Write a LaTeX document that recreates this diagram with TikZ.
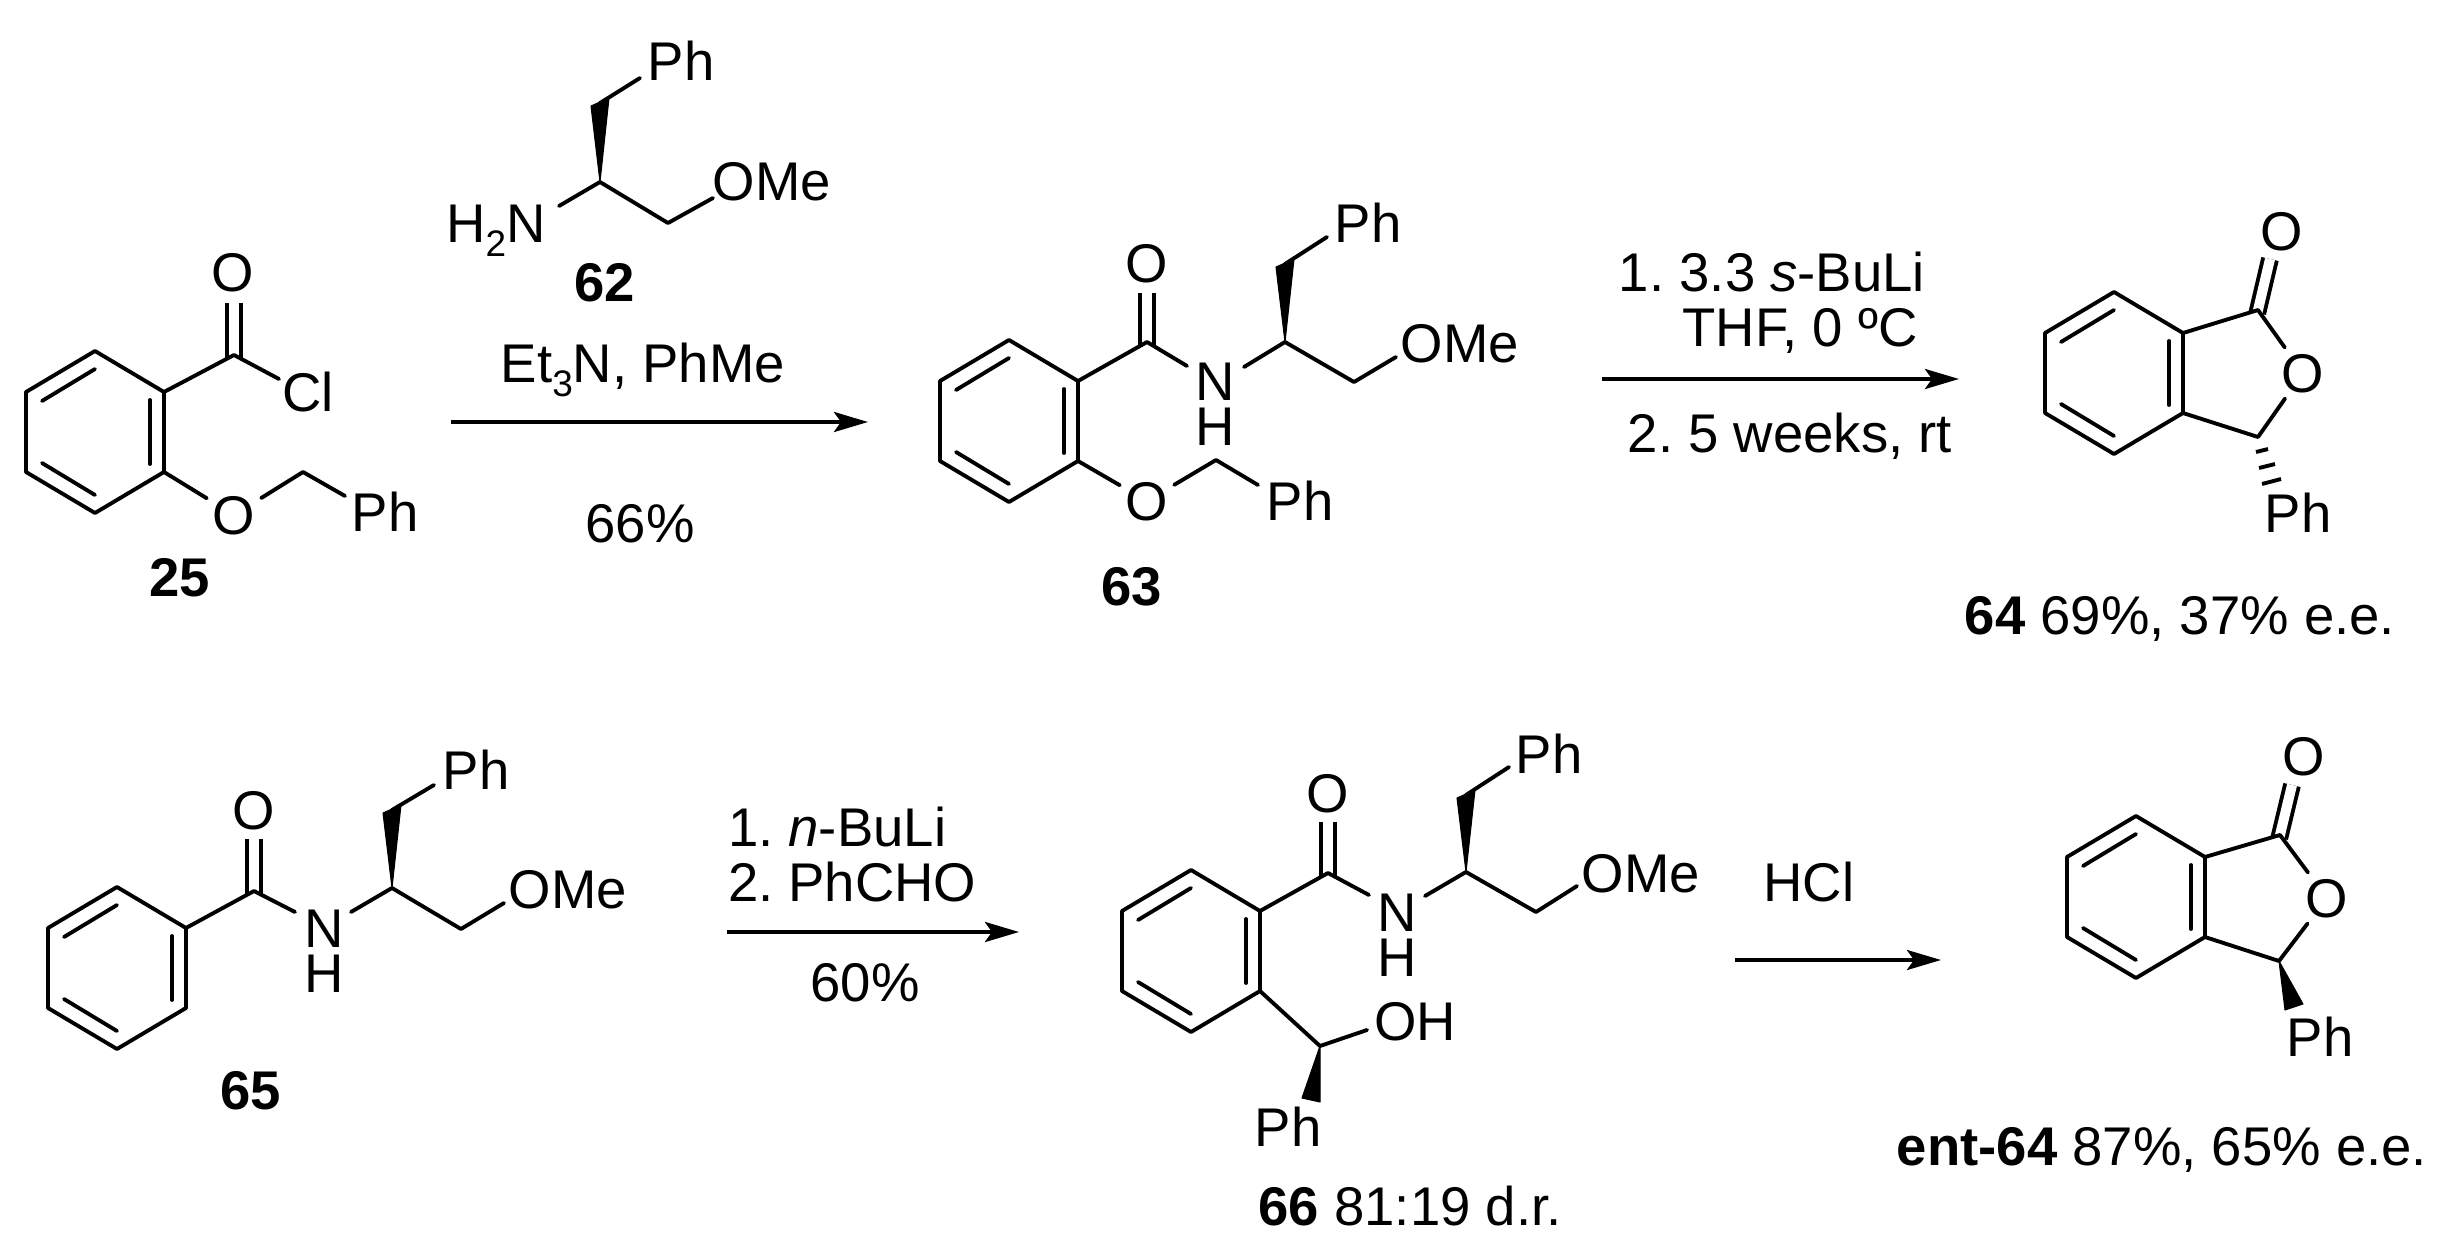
\documentclass[tikz,border=0pt]{standalone}
\usepackage{fontspec}
\setmainfont{Liberation Sans}
\usetikzlibrary{arrows.meta,calc}
\frenchspacing
\newcommand{\subnum}[1]{\raisebox{-0.25em}{\fontsize{10.5}{11}\selectfont #1}}
\tikzset{
	atom/.style={inner sep=0pt, outer sep=0.06cm, text height=11.1pt, text depth=0pt, font=\fontsize{15.5}{18}\selectfont},
	amine/.style={inner sep=0pt, align=center, font=\fontsize{15.5}{12.9}\selectfont},
	bond/.style={line width=1.1pt, line cap=round, line join=round},
	dblbond/.style={line width=1.1pt, double, double distance=0.1cm, shorten <=-0.03cm},
	wedgebond/.style={fill=black, draw=black, line width=0.3pt, line join=round},
	hashbond/.style={line width=1.1pt},
	rxnarrow/.style={line width=1.1pt, -{Stealth[length=0.34cm, width=0.2cm, inset=0.07cm]}}
}
% ring with its corners named from the first argument
\newcommand{\benzring}[3]{
	\begin{scope}[shift={(#2,#3)}]
		\coordinate (#1t) at (0,-81);
		\coordinate (#1ur) at (69,-40);
		\coordinate (#1lr) at (69,40);
		\coordinate (#1b) at (0,81);
		\coordinate (#1ll) at (-69,40);
		\coordinate (#1ul) at (-69,-40);
		\draw[bond] (#1t) -- (#1ur) -- (#1lr) -- (#1b) -- (#1ll) -- (#1ul) -- cycle;
		\draw[bond] (-53,-31) -- (0,-63);
		\draw[bond] (55,-32) -- (55,32);
		\draw[bond] (-53,31) -- (0,63);
	\end{scope}
}
\begin{document}
\begin{tikzpicture}[x=0.01cm, y=-0.01cm]
	\useasboundingbox (0,0) rectangle (2456,1260);

	% 25
	\node[atom] (o25) at (233,272) {O};
	\node[atom] (cl25) at (308,392) {Cl};
	\node[atom] (ob25) at (234,515) {O};
	\node[atom] (ph25) at (385,512) {Ph};
	\node[atom] (lab25) at (180,577) {\textbf{25}};
	\coordinate (co25) at (234,355);
	\coordinate (cle25) at (279,379);
	\coordinate (ch25) at (303,472);
	\coordinate (phe25) at (345,496);
	\draw[dblbond] (co25) -- (234,303);
	\benzring{r25}{95}{432}
	\draw[bond] (r25ur) -- (co25) -- (cle25);
	\draw[bond] (r25lr) -- (ob25);
	\draw[bond] (ob25) -- (ch25) -- (phe25);

	% 62
	\node[atom] (ph62) at (681,61) {Ph};
	\node[atom] (nh62) at (496,223) {H\subnum{2}N};
	\node[atom] (ome62) at (772,181) {OMe};
	\node[atom] (lab62) at (605,282) {\textbf{62}};
	\coordinate (c62) at (600,182);
	\coordinate (w62) at (600,103);
	\coordinate (phe62) at (640,78);
	\coordinate (ne62) at (559,206);
	\coordinate (ch62) at (668,223);
	\coordinate (oe62) at (713,198);
	\fill[wedgebond] (c62) -- ($(w62)+(-9,3)$) -- ($(w62)+(9,-5)$) -- cycle;
	\draw[bond] (w62) -- (phe62);
	\draw[bond] (ne62) -- (c62) -- (ch62) -- (oe62);

	% first arrow
	\node[atom] (cond1) at (643,363) {Et\subnum{3}N, PhMe};
	\node[atom] (yield1) at (640,523) {66\%};
	\coordinate (a1s) at (451,422);
	\coordinate (a1e) at (868,422);
	\draw[rxnarrow] (a1s) -- (a1e);

	% 63
	\node[atom] (o63) at (1147,263) {O};
	\node[amine] (n63) at (1215,404) {N\\H};
	\node[atom] (ph63) at (1368,223) {Ph};
	\node[atom] (ome63) at (1460,343) {OMe};
	\node[atom] (ob63) at (1147,501) {O};
	\node[atom] (phb63) at (1300,501) {Ph};
	\node[atom] (lab63) at (1132,586) {\textbf{63}};
	\coordinate (co63) at (1147,342);
	\coordinate (c63) at (1285,342);
	\coordinate (w63) at (1285,264);
	\coordinate (phe63) at (1327,237);
	\coordinate (ch63) at (1354,382);
	\coordinate (oe63) at (1396,357);
	\coordinate (chb63) at (1216,460);
	\coordinate (phbe63) at (1258,485);
	\coordinate (nl63) at (1187,366);
	\coordinate (nr63) at (1244,367);
	\draw[dblbond] (co63) -- (1147,293);
	\benzring{r63}{1009}{421}
	\draw[bond] (r63ur) -- (co63) -- (nl63);
	\draw[bond] (nr63) -- (c63) -- (ch63) -- (oe63);
	\fill[wedgebond] (c63) -- ($(w63)+(-9,3)$) -- ($(w63)+(9,-5)$) -- cycle;
	\draw[bond] (w63) -- (phe63);
	\draw[bond] (r63lr) -- (ob63);
	\draw[bond] (ob63) -- (chb63) -- (phbe63);

	% second arrow
	\node[atom] (cond2a) at (1772,272) {1. 3.3 \textit{s}-BuLi};
	\node[atom] (cond2b) at (1800,327) {THF, 0 ºC};
	\node[atom] (cond2c) at (1790,433) {2. 5 weeks, rt};
	\coordinate (a2s) at (1602,379);
	\coordinate (a2e) at (1959,379);
	\draw[rxnarrow] (a2s) -- (a2e);

	% 64
	\node[atom] (o64) at (2282,231) {O};
	\node[atom] (or64) at (2303,373) {O};
	\node[atom] (ph64) at (2298,513) {Ph};
	\node[atom] (lab64) at (2180,615) {\textbf{64} 69\%, 37\% e.e.};
	\coordinate (co64) at (2258,310);
	\coordinate (c64) at (2258,437);
	\coordinate (coe64) at (2270,259);
	\draw[dblbond] (co64) -- (coe64);
	\benzring{r64}{2114}{373}
	\draw[bond] (r64ur) -- (co64) -- (or64);
	\draw[bond] (or64) -- (c64) -- (r64lr);
	\draw[hashbond] (2256,452) -- (2268,449);
	\draw[hashbond] (2259,468) -- (2275,464);
	\draw[hashbond] (2262,484) -- (2281,479);

	% 65
	\node[atom] (o65) at (254,810) {O};
	\node[amine] (n65) at (324,951) {N\\H};
	\node[atom] (ph65) at (476,770) {Ph};
	\node[atom] (ome65) at (568,889) {OMe};
	\node[atom] (lab65) at (251,1090) {\textbf{65}};
	\coordinate (co65) at (254,891);
	\coordinate (c65) at (392,888);
	\coordinate (w65) at (392,810);
	\coordinate (phe65) at (434,785);
	\coordinate (ch65) at (461,929);
	\coordinate (oe65) at (504,903);
	\coordinate (nl65) at (295,912);
	\coordinate (nr65) at (351,912);
	\draw[dblbond] (co65) -- (254,839);
	\benzring{r65}{117}{968}
	\draw[bond] (r65ur) -- (co65) -- (nl65);
	\draw[bond] (nr65) -- (c65) -- (ch65) -- (oe65);
	\fill[wedgebond] (c65) -- ($(w65)+(-9,3)$) -- ($(w65)+(9,-5)$) -- cycle;
	\draw[bond] (w65) -- (phe65);

	% third arrow
	\node[atom, anchor=west] (cond3a) at (722,827) {1. \textit{n}-BuLi};
	\node[atom, anchor=west] (cond3b) at (722,882) {2. PhCHO};
	\node[atom] (yield3) at (865,982) {60\%};
	\coordinate (a3s) at (727,932);
	\coordinate (a3e) at (1019,932);
	\draw[rxnarrow] (a3s) -- (a3e);

	% 66
	\node[atom] (o66) at (1328,793) {O};
	\node[amine] (n66) at (1397,935) {N\\H};
	\node[atom] (ph66) at (1549,754) {Ph};
	\node[atom] (ome66) at (1641,873) {OMe};
	\node[atom] (oh66) at (1415,1021) {OH};
	\node[atom] (phb66) at (1288,1127) {Ph};
	\node[atom] (lab66) at (1410,1206) {\textbf{66} 81:19 d.r.};
	\coordinate (co66) at (1328,873);
	\coordinate (c66) at (1466,872);
	\coordinate (w66) at (1466,795);
	\coordinate (phe66) at (1509,767);
	\coordinate (ch66) at (1536,912);
	\coordinate (oe66) at (1577,886);
	\coordinate (nl66) at (1369,895);
	\coordinate (nr66) at (1425,896);
	\coordinate (coh66) at (1320,1046);
	\coordinate (ohe66) at (1367,1030);
	\coordinate (wb66) at (1311,1100);
	\draw[dblbond] (co66) -- (1328,822);
	\benzring{r66}{1191}{951}
	\draw[bond] (r66ur) -- (co66) -- (nl66);
	\draw[bond] (nr66) -- (c66) -- (ch66) -- (oe66);
	\fill[wedgebond] (c66) -- ($(w66)+(-9,3)$) -- ($(w66)+(9,-5)$) -- cycle;
	\draw[bond] (w66) -- (phe66);
	\draw[bond] (r66lr) -- (coh66) -- (ohe66);
	\fill[wedgebond] (coh66) -- ($(wb66)+(-9,-2)$) -- ($(wb66)+(9,2)$) -- cycle;

	% fourth arrow
	\node[atom] (cond4) at (1809,882) {HCl};
	\coordinate (a4s) at (1735,960);
	\coordinate (a4e) at (1941,960);
	\draw[rxnarrow] (a4s) -- (a4e);

	% ent-64
	\node[atom] (oe64) at (2304,756) {O};
	\node[atom] (ore64) at (2327,898) {O};
	\node[atom] (phe64) at (2320,1037) {Ph};
	\node[atom] (labe64) at (2162,1146) {\textbf{ent-64} 87\%, 65\% e.e.};
	\coordinate (coe) at (2280,835);
	\coordinate (cee) at (2279,961);
	\coordinate (coee) at (2292,785);
	\coordinate (wbe) at (2294,1007);
	\draw[dblbond] (coe) -- (coee);
	\benzring{re64}{2136}{897}
	\draw[bond] (re64ur) -- (coe) -- (ore64);
	\draw[bond] (ore64) -- (cee) -- (re64lr);
	\fill[wedgebond] (cee) -- ($(wbe)+(-9,3)$) -- ($(wbe)+(9,-3)$) -- cycle;
\end{tikzpicture}
\end{document}
